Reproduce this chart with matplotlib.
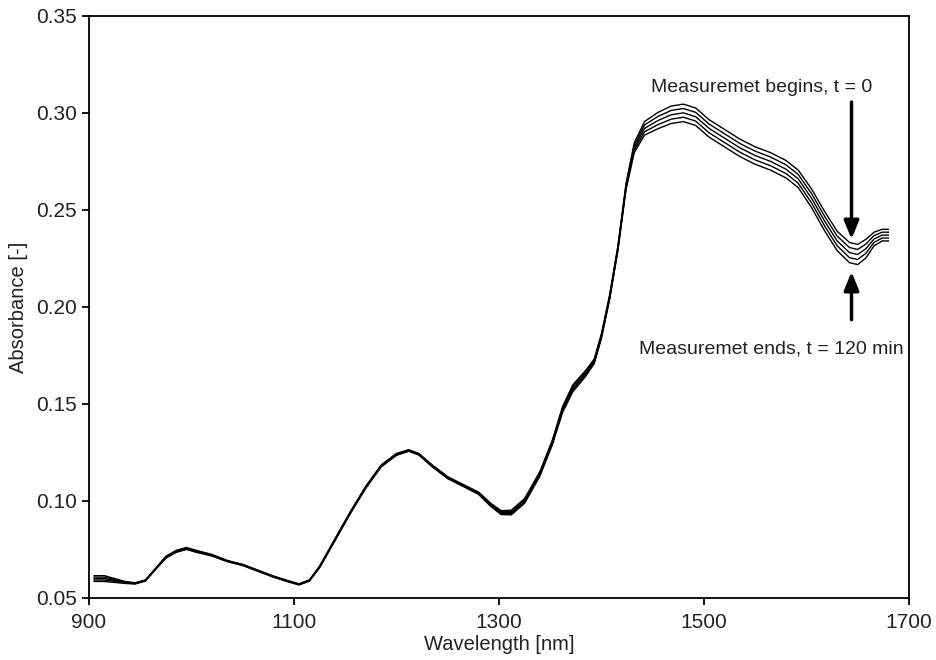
import numpy as np
import matplotlib.pyplot as plt

plt.rcParams['font.family'] = ['Liberation Sans', 'DejaVu Sans']

# wavelength grid [nm] and mean absorbance
wavelength = [905, 915, 925, 935, 945, 955, 965, 975, 985, 995, 1005, 1020,
              1035, 1050, 1065, 1080, 1095, 1105, 1115, 1125, 1140, 1155,
              1170, 1185, 1200, 1212, 1222, 1235, 1250, 1265, 1280, 1292,
              1302, 1312, 1325, 1340, 1352, 1362, 1372, 1385, 1393, 1400,
              1408, 1416, 1424, 1432, 1442, 1455, 1468, 1480, 1492, 1505,
              1520, 1535, 1550, 1565, 1580, 1592, 1605, 1618, 1630, 1642,
              1650, 1658, 1666, 1674, 1680]
absorbance = [0.060, 0.060, 0.059, 0.058, 0.0575, 0.059, 0.065, 0.071, 0.074, 0.0755,
              0.074, 0.072, 0.069, 0.067, 0.064, 0.061, 0.0585, 0.057, 0.059, 0.066,
              0.080, 0.094, 0.107, 0.118, 0.124, 0.126, 0.124, 0.118, 0.112, 0.108,
              0.104, 0.098, 0.094, 0.094, 0.100, 0.114, 0.130, 0.147, 0.158, 0.166,
              0.172, 0.185, 0.205, 0.230, 0.262, 0.282, 0.292, 0.296, 0.299, 0.300,
              0.298, 0.292, 0.287, 0.282, 0.278, 0.275, 0.271, 0.266, 0.256, 0.244,
              0.234, 0.228, 0.227, 0.230, 0.235, 0.237, 0.237]
# half-spread between the first and the last spectrum
spread = [0.0015, 0.0015, 0.001, 0.0005, 0.0003, 0.0003, 0.0003, 0.0005, 0.0005, 0.0005,
          0.0005, 0.0004, 0.0003, 0.0003, 0.0003, 0.0003, 0.0003, 0.0003, 0.0003, 0.0004,
          0.0005, 0.0005, 0.0005, 0.0005, 0.0005, 0.0004, 0.0004, 0.0005, 0.0005, 0.0005,
          0.0006, 0.0008, 0.0010, 0.0012, 0.0012, 0.0012, 0.0012, 0.0015, 0.0018, 0.0015,
          0.0012, 0.0012, 0.0012, 0.0012, 0.0015, 0.0025, 0.0035, 0.0042, 0.0045, 0.0045,
          0.0045, 0.0045, 0.0045, 0.0045, 0.0045, 0.0045, 0.0045, 0.0045, 0.0048, 0.005,
          0.005, 0.0052, 0.0052, 0.0048, 0.0035, 0.0030, 0.0030]
# relative position of each measured spectrum, t = 0 first
offsets = [1.0, 0.5, 0.0, -0.5, -1.0]

x = np.array(wavelength)
y = np.array(absorbance)
s = np.array(spread)

fig = plt.figure(figsize=(9.37, 6.6), dpi=100)
ax = fig.add_axes([0.095, 0.094, 0.875, 0.882])

for k in offsets:
    ax.plot(x, y + k * s, color='black', lw=1.0)

ax.set_xlim(900, 1700)
ax.set_ylim(0.05, 0.35)
ax.set_xticks([900, 1100, 1300, 1500, 1700])
ax.set_yticks([0.05, 0.10, 0.15, 0.20, 0.25, 0.30, 0.35])
ax.yaxis.set_major_formatter(plt.FormatStrFormatter('%.2f'))
ax.tick_params(direction='out', length=5, width=1.3, labelsize=15,
               labelcolor='#222222')
ax.tick_params(axis='x', pad=6)
for sp in ax.spines.values():
    sp.set_linewidth(1.3)
ax.set_xlabel('Wavelength [nm]', fontsize=14.5, labelpad=2, color='#222222')
ax.set_ylabel('Absorbance [-]', fontsize=14.5, labelpad=6, color='#222222')

# arrows marking the start and end of the measurement
ax.annotate('', xy=(1644, 0.2335), xytext=(1644, 0.307),
            arrowprops=dict(arrowstyle='-|>,head_width=0.45,head_length=1.1',
                            color='black', lw=2.5))
ax.annotate('', xy=(1644, 0.2195), xytext=(1644, 0.192),
            arrowprops=dict(arrowstyle='-|>,head_width=0.45,head_length=1.1',
                            color='black', lw=2.5))
ax.text(1556, 0.311, 'Measuremet begins, t = 0', fontsize=14,
        ha='center', va='baseline', color='#222222')
ax.text(1566, 0.1785, 'Measuremet ends, t = 120 min', fontsize=14,
        ha='center', va='center', color='#222222')

fig.savefig('out.png', dpi=100)
